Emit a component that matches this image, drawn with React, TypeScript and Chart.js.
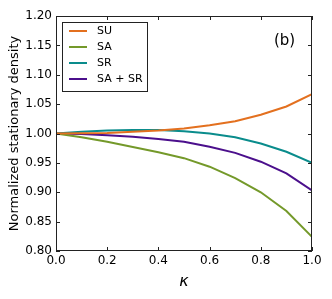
import React, { useEffect, useRef } from "react";
import { Chart, registerables } from "chart.js";

Chart.register(...registerables);

const kappa = [0, 0.1, 0.2, 0.3, 0.4, 0.5, 0.6, 0.7, 0.8, 0.9, 1.0];
const seriesNames = ["SU", "SA", "SR", "SA + SR"];
const su = [1.0, 1.0005, 1.001, 1.003, 1.005, 1.0085, 1.014, 1.021, 1.032, 1.046, 1.067];
const sa = [1.0, 0.9935, 0.986, 0.977, 0.968, 0.958, 0.9435, 0.924, 0.9, 0.868, 0.824];
const sr = [1.0, 1.003, 1.005, 1.006, 1.006, 1.004, 1.0, 0.9935, 0.983, 0.969, 0.95];
const sasr = [1.0, 0.999, 0.997, 0.9945, 0.9905, 0.986, 0.9775, 0.967, 0.952, 0.932, 0.903];
const colors = ["#e3701f", "#74992a", "#0a8c8c", "#4b0f8c"];
const xTicks = [0, 0.2, 0.4, 0.6, 0.8, 1.0];
const yTicks = [0.8, 0.85, 0.9, 0.95, 1.0, 1.05, 1.1, 1.15, 1.2];

const FONT = "'DejaVu Sans', sans-serif";

const decorPlugin = {
  id: "decor",
  afterDraw(chart: any) {
    const ctx = chart.ctx;
    const a = chart.chartArea;
    const xs = chart.scales.x;
    const ys = chart.scales.y;
    ctx.save();
    ctx.strokeStyle = "#222";
    ctx.lineWidth = 1;
    // frame
    ctx.strokeRect(a.left + 0.5, a.top + 0.5, a.right - a.left - 1, a.bottom - a.top - 1);
    // inward ticks
    const tl = 4;
    ctx.beginPath();
    xTicks.forEach((v) => {
      const px = Math.round(xs.getPixelForValue(v)) + 0.5;
      ctx.moveTo(px, a.bottom);
      ctx.lineTo(px, a.bottom - tl);
      ctx.moveTo(px, a.top);
      ctx.lineTo(px, a.top + tl);
    });
    yTicks.forEach((v) => {
      const py = Math.round(ys.getPixelForValue(v)) + 0.5;
      ctx.moveTo(a.left, py);
      ctx.lineTo(a.left + tl, py);
      ctx.moveTo(a.right, py);
      ctx.lineTo(a.right - tl, py);
    });
    ctx.stroke();

    // legend box
    const lx = 62, ly = 22, lw = 85, lh = 69;
    ctx.fillStyle = "#fff";
    ctx.fillRect(lx, ly, lw, lh);
    ctx.strokeStyle = "#222";
    ctx.strokeRect(lx + 0.5, ly + 0.5, lw, lh);
    ctx.font = `11px ${FONT}`;
    ctx.textBaseline = "middle";
    ctx.textAlign = "left";
    seriesNames.forEach((n, i) => {
      const y = 31 + i * 16;
      ctx.strokeStyle = colors[i];
      ctx.lineWidth = 2;
      ctx.beginPath();
      ctx.moveTo(69, y);
      ctx.lineTo(87, y);
      ctx.stroke();
      ctx.fillStyle = "#000";
      ctx.fillText(n, 97, y);
    });

    // panel label
    ctx.font = `15px ${FONT}`;
    ctx.fillStyle = "#000";
    ctx.textAlign = "left";
    ctx.fillText("(b)", 274, 41);

    // y axis title
    ctx.save();
    ctx.translate(15, (a.top + a.bottom) / 2);
    ctx.rotate(-Math.PI / 2);
    ctx.font = `13px ${FONT}`;
    ctx.textAlign = "center";
    ctx.textBaseline = "middle";
    ctx.fillText("Normalized stationary density", 0, 0);
    ctx.restore();

    // x axis title
    ctx.font = `italic 16px ${FONT}`;
    ctx.textAlign = "center";
    ctx.textBaseline = "middle";
    ctx.fillText("κ", (a.left + a.right) / 2, 282);
    ctx.restore();
  },
};

export default function App() {
  const ref = useRef<HTMLCanvasElement>(null);
  useEffect(() => {
    document.body.style.margin = "0";
    const series = [su, sa, sr, sasr];
    const chart = new Chart(ref.current!, {
      type: "line",
      data: {
        labels: kappa,
        datasets: series.map((d, i) => ({
          label: seriesNames[i],
          data: kappa.map((k, j) => ({ x: k, y: d[j] })),
          borderColor: colors[i],
          backgroundColor: colors[i],
          borderWidth: 2,
          pointRadius: 0,
          tension: 0,
          fill: false,
        })),
      },
      options: {
        animation: false,
        responsive: false,
        maintainAspectRatio: false,
        layout: { padding: { left: 0, top: 16, right: 20, bottom: 0 } },
        plugins: { legend: { display: false }, tooltip: { enabled: false } },
        scales: {
          x: {
            type: "linear",
            min: 0,
            max: 1,
            afterBuildTicks: (s: any) => {
              s.ticks = xTicks.map((v) => ({ value: v }));
            },
            afterFit: (s: any) => {
              s.height = 48;
            },
            grid: { display: false, drawTicks: false },
            border: { display: false },
            ticks: {
              color: "#000",
              padding: 3,
              maxRotation: 0,
              font: { family: FONT, size: 12 },
              callback: (v: any) => Number(v).toFixed(1),
            },
          },
          y: {
            type: "linear",
            min: 0.8,
            max: 1.2,
            afterBuildTicks: (s: any) => {
              s.ticks = yTicks.map((v) => ({ value: v }));
            },
            afterFit: (s: any) => {
              s.width = 56;
            },
            grid: { display: false, drawTicks: false },
            border: { display: false },
            ticks: {
              color: "#000",
              padding: 4,
              font: { family: FONT, size: 12 },
              callback: (v: any) => Number(v).toFixed(2),
            },
          },
        },
      },
      plugins: [decorPlugin],
    } as any);
    return () => chart.destroy();
  }, []);
  return (
    <div style={{ width: 332, height: 299 }}>
      <canvas ref={ref} width={332} height={299} style={{ display: "block" }} />
    </div>
  );
}
